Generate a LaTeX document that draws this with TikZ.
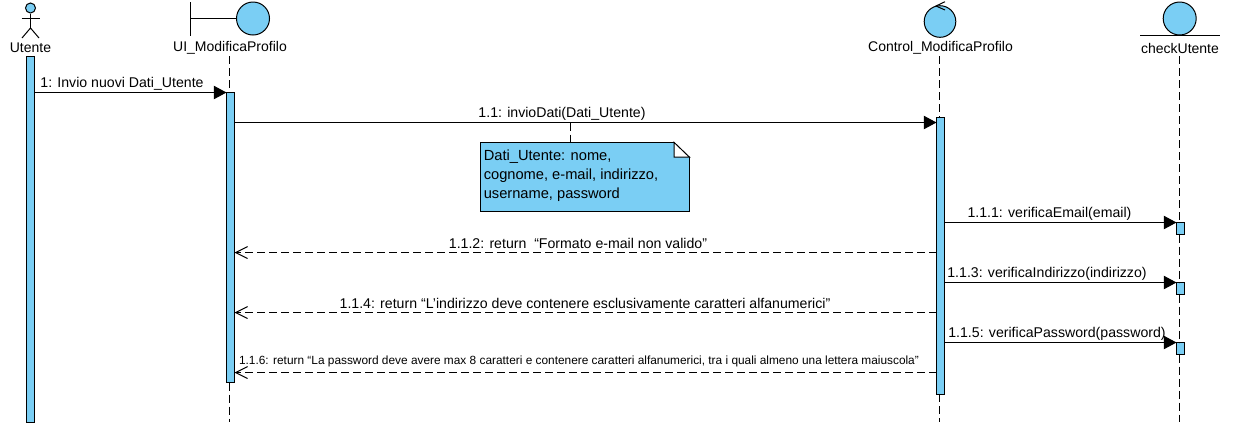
\documentclass[tikz,border=0pt]{standalone}
\usepackage{fontspec}
\setmainfont{Liberation Sans}
\usepackage{tikz}
\usetikzlibrary{arrows.meta}
\definecolor{umlblue}{HTML}{7ACEF4}
\tikzstyle{thing}=[draw, fill=umlblue, line width=0.75pt, circle, inner sep=0pt]
\tikzstyle{activation}=[draw, fill=umlblue, line width=0.75pt, rectangle, inner sep=0pt, outer sep=0pt, minimum width=6pt]
\tikzstyle{lifename}=[inner sep=0pt, yshift=-0.9pt, font=\fontsize{10.5pt}{12pt}\selectfont]
\tikzstyle{msg}=[inner sep=0pt, yshift=-1.1pt, font=\fontsize{10.6pt}{12pt}\selectfont]
\tikzstyle{call}=[line width=0.75pt, -{Triangle[length=9.5pt, width=10pt]}]
\tikzstyle{reply}=[line width=0.75pt, dash pattern=on 6pt off 3pt, -{Straight Barb[length=9pt, width=9pt]}]
\tikzstyle{lifeline}=[line width=0.75pt, dash pattern=on 6pt off 3pt]

\begin{document}
\begin{tikzpicture}[x=0.75pt, y=-0.75pt]
    \useasboundingbox (0, 0) rectangle (1254, 426);

    % Utente
    \node[thing, minimum size=7.5pt]  (head) at (30.5, 8) {};
    \coordinate (hip) at (30.5, 28);
    \coordinate (armL) at (21.5, 18);
    \coordinate (armR) at (39.5, 18);
    \coordinate (legL) at (22, 38);
    \coordinate (legR) at (39, 38);
    \draw[line width=0.75pt] (head) -- (hip);
    \draw[line width=0.75pt] (armL) -- (armR);
    \draw[line width=0.75pt] (legL) -- (hip) -- (legR);
    \node[lifename] (utente) at (30.5, 47) {Utente};
    \node[activation, minimum height=274.5pt] (actU) at (30.5, 239) {};

    % UI_ModificaProfilo
    \node[thing, minimum size=24.75pt] (ui) at (253, 18.5) {};
    \coordinate (uiBarT) at (190.5, 2);
    \coordinate (uiBarB) at (190.5, 35.5);
    \draw[line width=0.75pt] (uiBarT) -- (uiBarB);
    \draw[line width=0.75pt] (uiBarT |- ui) -- (ui);
    \node[lifename] (uiName) at (230, 47) {UI\_ModificaProfilo};
    \node[activation, minimum height=217.5pt] (actUI) at (230.5, 237.5) {};
    \coordinate (uiTop) at (229.5, 56);
    \coordinate (uiEnd) at (229.5, 422);
    \draw[lifeline] (uiTop) -- (uiTop |- actUI.north);
    \draw[lifeline] (uiEnd |- actUI.south) -- (uiEnd);

    % Control_ModificaProfilo
    \node[thing, minimum size=23.7pt] (control) at (940, 21.5) {};
    \coordinate (ctlTipA) at (945, 1.7);
    \coordinate (ctlTip) at (936, 6);
    \coordinate (ctlTipB) at (945, 10);
    \draw[line width=0.75pt] (ctlTipA) -- (ctlTip) -- (ctlTipB);
    \node[lifename] (ctlName) at (940.5, 47) {Control\_ModificaProfilo};
    \node[activation, minimum height=207.75pt] (actC) at (940.5, 255.5) {};
    \coordinate (ctlTop) at (939.5, 56);
    \coordinate (ctlEnd) at (939.5, 422);
    \draw[lifeline] (ctlTop) -- (ctlTop |- actC.north);
    \draw[lifeline] (ctlEnd |- actC.south) -- (ctlEnd);

    % checkUtente
    \node[thing, minimum size=24.75pt] (check) at (1179.7, 18.5) {};
    \coordinate (chkBarL) at (1140, 35.2);
    \coordinate (chkBarR) at (1219.5, 35.2);
    \draw[line width=0.75pt] (chkBarL) -- (chkBarR);
    \node[lifename] (chkName) at (1180, 47) {checkUtente};
    \node[activation, minimum height=9pt] (chkA) at (1180.5, 228.5) {};
    \node[activation, minimum height=9pt] (chkB) at (1180.5, 288.5) {};
    \node[activation, minimum height=9pt] (chkC) at (1180.5, 348.5) {};
    \coordinate (chkTop) at (1179.5, 56);
    \coordinate (chkEnd) at (1179.5, 422);
    \draw[lifeline] (chkTop) -- (chkTop |- chkA.north);
    \draw[lifeline] (chkTop |- chkA.south) -- (chkTop |- chkB.north);
    \draw[lifeline] (chkTop |- chkB.south) -- (chkTop |- chkC.north);
    \draw[lifeline] (chkTop |- chkC.south) -- (chkEnd);

    % messages
    \coordinate (m2) at (0, 122.5);
    \coordinate (m4) at (0, 252.5);
    \coordinate (m6) at (0, 312.5);
    \coordinate (m8) at (0, 372.5);
    \draw[call] (actU.east |- actUI.north) -- (actUI.north west);
    \draw[call] (actUI.east |- m2) -- (actC.west |- m2);
    \draw[call] (actC.east |- chkA.north) -- (chkA.north west);
    \draw[reply] (actC.west |- m4) -- (actUI.east |- m4);
    \draw[call] (actC.east |- chkB.north) -- (chkB.north west);
    \draw[reply] (actC.west |- m6) -- (actUI.east |- m6);
    \draw[call] (actC.east |- chkC.north) -- (chkC.north west);
    \draw[reply] (actC.west |- m8) -- (actUI.east |- m8);
    \node[msg] (t1) at (122, 82) {1: Invio nuovi Dati\_Utente};
    \node[msg] (t2) at (562, 112) {1.1: invioDati(Dati\_Utente)};
    \node[msg] (t3) at (1049.5, 212) {1.1.1: verificaEmail(email)};
    \node[msg] (t4) at (578, 242) {1.1.2: return~~“Formato e-mail non valido”};
    \node[msg] (t5) at (1047, 272) {1.1.3: verificaIndirizzo(indirizzo)};
    \node[msg] (t6) at (585, 302) {1.1.4: return “L'indirizzo deve contenere esclusivamente caratteri alfanumerici”};
    \node[msg] (t7) at (1057, 332) {1.1.5: verificaPassword(password)};
    \node[msg, font=\fontsize{8.9pt}{10pt}\selectfont] (t8) at (579, 360) {1.1.6: return “La password deve avere max 8 caratteri e contenere caratteri alfanumerici, tra i quali almeno una lettera maiuscola”};

    % note
    \node[activation, minimum width=156.75pt, minimum height=51.75pt] (note) at (584.8, 176.8) {};
    \coordinate (foldA) at (674, 142.3);
    \coordinate (foldB) at (689.3, 157);
    \coordinate (noteLink) at (570, 122.5);
    \fill[white] (foldA) -- (689.8, 141.5) -- (689.8, 157) -- cycle;
    \draw[fill=white, line width=0.75pt] (foldA) -- (foldA |- foldB) -- (foldB) -- cycle;
    \draw[lifeline] (noteLink) -- (noteLink |- note.north);
    \node[msg, anchor=west, align=left, font=\fontsize{11pt}{14.25pt}\selectfont] (noteText) at (483.5, 174) {Dati\_Utente: nome,\\cognome, e-mail, indirizzo,\\username, password};
\end{tikzpicture}
\end{document}
